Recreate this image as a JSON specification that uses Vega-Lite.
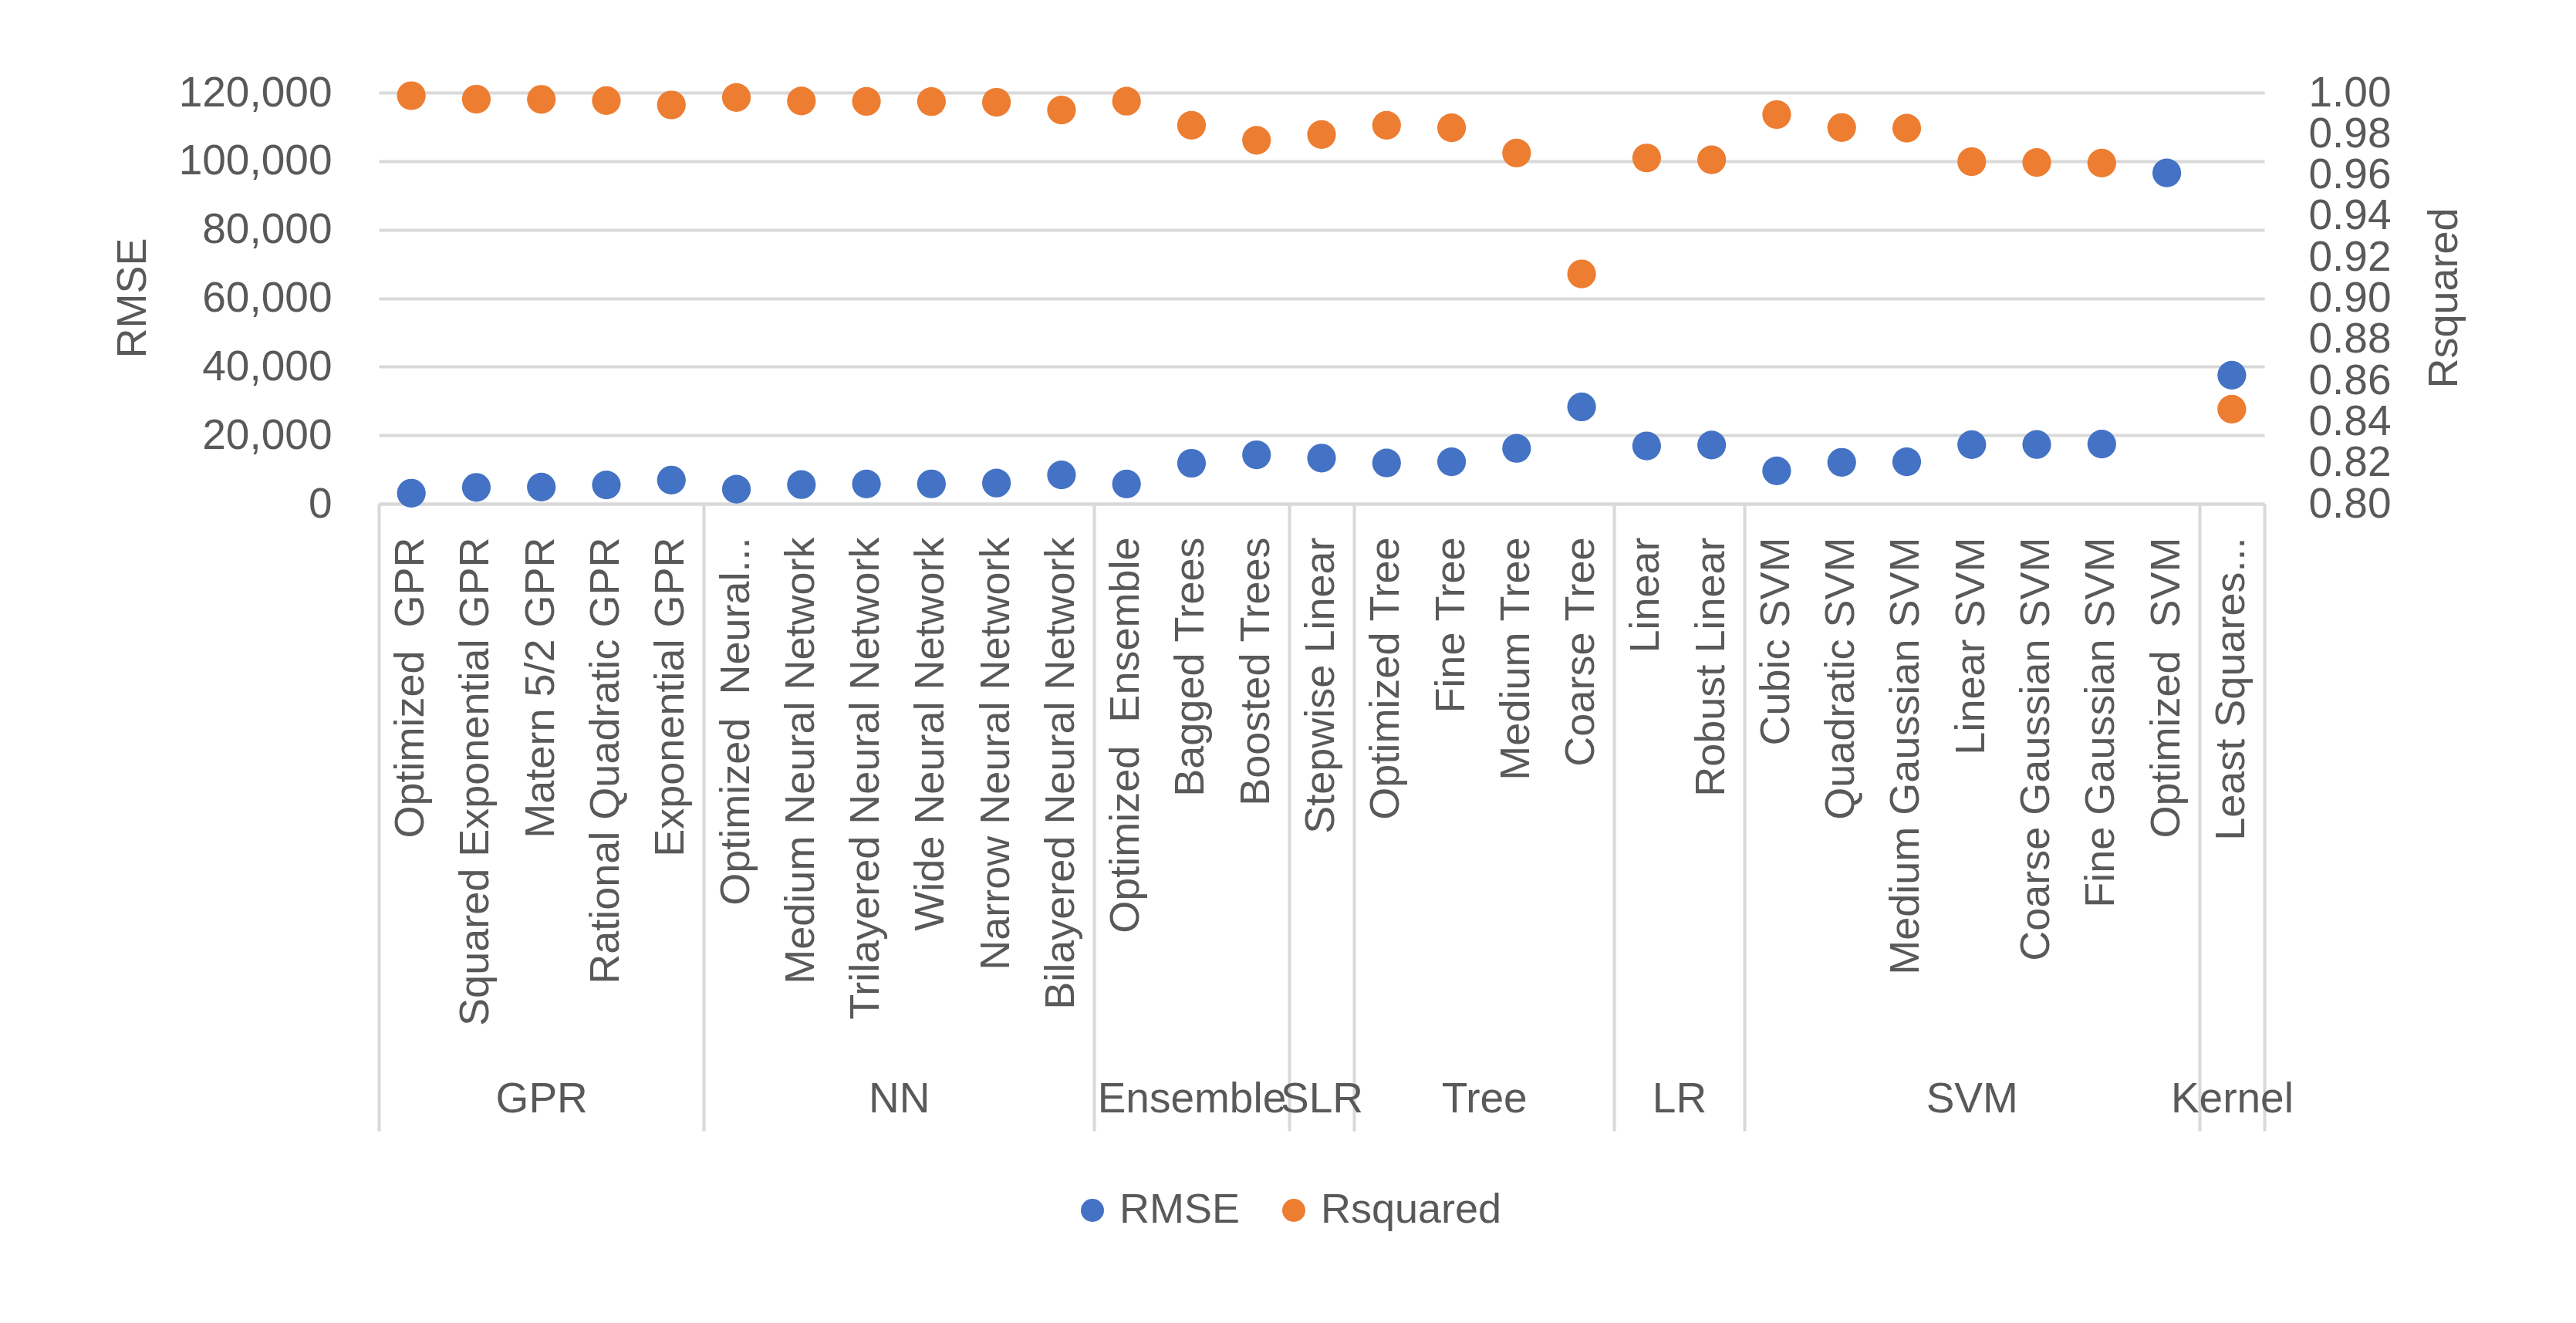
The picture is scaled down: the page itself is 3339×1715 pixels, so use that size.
{
  "$schema": "https://vega.github.io/schema/vega-lite/v6.json",
  "width": 2444,
  "height": 533,
  "autosize": {"type": "none"},
  "padding": {"left": 491, "top": 120, "right": 404, "bottom": 1062},
  "background": "white",
  "config": {
    "view": {"stroke": null},
    "font": "Liberation Sans, Arial, sans-serif",
    "axis": {"labelColor": "#595959", "titleColor": "#595959", "titleFontWeight": "normal", "labelLimit": 0},
    "legend": {"labelColor": "#595959", "labelLimit": 0}
  },
  "data": {
    "values": [
      {"group": "GPR", "model": "Optimized\u00a0 GPR", "RMSE": 3085, "Rsquared": 0.9985},
      {"group": "GPR", "model": "Squared Exponential GPR", "RMSE": 4770, "Rsquared": 0.9968},
      {"group": "GPR", "model": "Matern 5/2 GPR", "RMSE": 4860, "Rsquared": 0.9967},
      {"group": "GPR", "model": "Rational Quadratic GPR", "RMSE": 5490, "Rsquared": 0.9961},
      {"group": "GPR", "model": "Exponential GPR", "RMSE": 6910, "Rsquared": 0.9940},
      {"group": "NN", "model": "Optimized\u00a0 Neural...", "RMSE": 4250, "Rsquared": 0.9976},
      {"group": "NN", "model": "Medium Neural Network", "RMSE": 5580, "Rsquared": 0.9959},
      {"group": "NN", "model": "Trilayered Neural Network", "RMSE": 5780, "Rsquared": 0.9957},
      {"group": "NN", "model": "Wide Neural Network", "RMSE": 5800, "Rsquared": 0.9956},
      {"group": "NN", "model": "Narrow Neural Network", "RMSE": 6030, "Rsquared": 0.9953},
      {"group": "NN", "model": "Bilayered Neural Network", "RMSE": 8420, "Rsquared": 0.9915},
      {"group": "Ensemble", "model": "Optimized\u00a0 Ensemble", "RMSE": 5760, "Rsquared": 0.9958},
      {"group": "Ensemble", "model": "Bagged Trees", "RMSE": 11820, "Rsquared": 0.9841},
      {"group": "Ensemble", "model": "Boosted Trees", "RMSE": 14290, "Rsquared": 0.9768},
      {"group": "SLR", "model": "Stepwise Linear", "RMSE": 13330, "Rsquared": 0.9796},
      {"group": "Tree", "model": "Optimized Tree", "RMSE": 11900, "Rsquared": 0.9841},
      {"group": "Tree", "model": "Fine Tree", "RMSE": 12250, "Rsquared": 0.9829},
      {"group": "Tree", "model": "Medium Tree", "RMSE": 16160, "Rsquared": 0.9706},
      {"group": "Tree", "model": "Coarse Tree", "RMSE": 28270, "Rsquared": 0.9118},
      {"group": "LR", "model": "Linear", "RMSE": 16880, "Rsquared": 0.9682},
      {"group": "LR", "model": "Robust Linear", "RMSE": 17150, "Rsquared": 0.9673},
      {"group": "SVM", "model": "Cubic SVM", "RMSE": 9590, "Rsquared": 0.9893},
      {"group": "SVM", "model": "Quadratic SVM", "RMSE": 12090, "Rsquared": 0.9830},
      {"group": "SVM", "model": "Medium Gaussian SVM", "RMSE": 12250, "Rsquared": 0.9827},
      {"group": "SVM", "model": "Linear SVM", "RMSE": 17240, "Rsquared": 0.9664},
      {"group": "SVM", "model": "Coarse Gaussian SVM", "RMSE": 17290, "Rsquared": 0.9660},
      {"group": "SVM", "model": "Fine Gaussian SVM", "RMSE": 17420, "Rsquared": 0.9657},
      {"group": "SVM", "model": "Optimized\u00a0 SVM", "RMSE": 96550, "Rsquared": null},
      {"group": "Kernel", "model": "Least Squares...", "RMSE": 37520, "Rsquared": 0.8460}
    ]
  },
  "layer": [
    {
      "encoding": {
        "x": {
          "field": "model", "type": "nominal", "sort": null,
          "scale": {"type": "band", "paddingInner": 0, "paddingOuter": 0},
          "axis": {
            "orient": "bottom", "title": null, "labelAngle": -90, "labelFontSize": 54,
            "labelPadding": 43, "ticks": false, "tickSize": 0, "domain": true,
            "domainColor": "#D9D9D9", "domainWidth": 4, "grid": false,
            "labelLimit": 0, "labelOverlap": false, "labelBound": false
          }
        }
      },
      "layer": [
        {
          "mark": {"type": "point", "filled": true, "shape": "circle", "size": 1385, "opacity": 1},
          "encoding": {
            "y": {
              "field": "RMSE", "type": "quantitative",
              "scale": {"domain": [0, 120000], "nice": false, "zero": true},
              "axis": {
                "orient": "left", "title": "RMSE", "values": [0, 20000, 40000, 60000, 80000, 100000, 120000],
                "format": ",.0f", "grid": true, "gridColor": "#D9D9D9", "gridWidth": 4,
                "domain": false, "ticks": false, "tickSize": 0, "labelFontSize": 55, "labelPadding": 61,
                "labelOverlap": false, "labelBound": false, "labelFlush": false, "labelLimit": 0,
                "titleFontSize": 54, "titleAngle": -90, "titleX": -319, "titleY": 266,
                "titleAlign": "center", "titleBaseline": "middle"
              }
            },
            "color": {
              "datum": "RMSE", "type": "nominal",
              "scale": {"domain": ["RMSE", "Rsquared"], "range": ["#4472C4", "#ED7D31"]},
              "legend": {
                "orient": "none", "legendX": 898, "legendY": 1422, "direction": "horizontal",
                "title": null, "labelFontSize": 54, "symbolSize": 900, "symbolType": "circle",
                "columnPadding": 42, "labelOffset": 8, "symbolStrokeWidth": 0, "labelLimit": 0
              }
            }
          }
        },
        {
          "mark": {"type": "point", "filled": true, "shape": "circle", "size": 1385, "opacity": 1},
          "encoding": {
            "y": {
              "field": "Rsquared", "type": "quantitative",
              "scale": {"domain": [0.8, 1.0], "nice": false, "zero": false},
              "axis": {
                "orient": "right", "title": "Rsquared",
                "values": [0.8, 0.82, 0.84, 0.86, 0.88, 0.9, 0.92, 0.94, 0.96, 0.98, 1.0],
                "format": ".2f", "grid": false, "domain": false, "ticks": false, "tickSize": 0,
                "labelFontSize": 55, "labelPadding": 57, "labelOverlap": false, "labelBound": false,
                "labelFlush": false, "labelLimit": 0, "titleFontSize": 54, "titleAngle": -90, "titleX": 233, "titleY": 266,
                "titleAlign": "center", "titleBaseline": "middle"
              }
            },
            "color": {"datum": "Rsquared", "type": "nominal"}
          }
        }
      ],
      "resolve": {
        "scale": {"x": "shared", "y": "independent"},
        "axis": {"x": "shared", "y": "independent"}
      }
    },
    {
      "mark": {"type": "point", "opacity": 0},
      "encoding": {
        "x": {
          "datum": 0, "type": "quantitative",
          "scale": {"domain": [0, 29], "nice": false, "zero": false},
          "axis": {
            "orient": "bottom", "title": null, "values": [0, 5, 11, 14, 15, 19, 21, 28, 29],
            "labels": false, "domain": false, "grid": false, "ticks": true,
            "tickSize": 813, "tickColor": "#D9D9D9", "tickWidth": 4
          }
        }
      }
    },
    {
      "mark": {"type": "point", "opacity": 0},
      "encoding": {
        "x": {
          "datum": 0, "type": "quantitative",
          "scale": {"domain": [0, 29], "nice": false, "zero": false},
          "axis": {
            "orient": "bottom", "title": null, "values": [2.5, 8, 12.5, 14.5, 17, 20, 24.5, 28.5],
            "labelExpr": "datum.value == 2.5 ? 'GPR' : datum.value == 8 ? 'NN' : datum.value == 12.5 ? 'Ensemble' : datum.value == 14.5 ? 'SLR' : datum.value == 17 ? 'Tree' : datum.value == 20 ? 'LR' : datum.value == 24.5 ? 'SVM' : 'Kernel'",
            "labels": true, "domain": false, "grid": false, "ticks": false, "tickSize": 0,
            "labelFontSize": 55, "labelPadding": 771, "labelBaseline": "middle", "labelLimit": 0,
            "labelOverlap": false, "labelBound": false, "labelFlush": false, "labelAngle": 0
          }
        }
      }
    }
  ],
  "resolve": {
    "scale": {"x": "independent", "y": "independent"},
    "axis": {"x": "independent", "y": "independent"}
  }
}
